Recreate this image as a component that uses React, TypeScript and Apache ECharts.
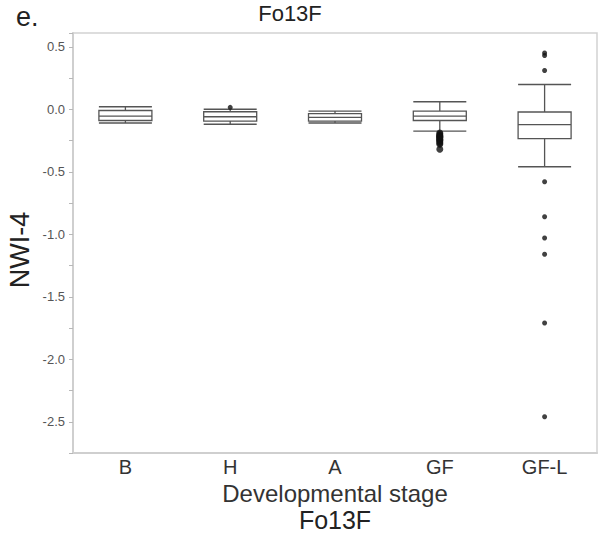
import React, { useEffect, useRef } from "react";
import * as echarts from "echarts";

const categories = ["B", "H", "A", "GF", "GF-L"];
// [min, Q1, median, Q3, max]
const boxB = [-0.11, -0.09, -0.055, -0.01, 0.02];
const boxH = [-0.12, -0.095, -0.06, -0.02, 0.0];
const boxA = [-0.11, -0.095, -0.065, -0.035, -0.015];
const boxGF = [-0.175, -0.09, -0.055, -0.015, 0.06];
const boxGFL = [-0.46, -0.235, -0.123, -0.022, 0.198];

const outliersH = [0.015];
const outliersGF = [-0.19, -0.2, -0.21, -0.215, -0.22, -0.225, -0.23, -0.24, -0.245, -0.25, -0.26, -0.27, -0.28, -0.32];
const outliersGFL = [0.45, 0.43, 0.31, -0.58, -0.86, -1.03, -1.16, -1.71, -2.46];

const yTickLabels = ["-2.5", "-2.0", "-1.5", "-1.0", "-0.5", "0.0", "0.5"];

const FONT = "'Liberation Sans', Arial, Helvetica, sans-serif";

export default function App() {
  const ref = useRef<HTMLDivElement>(null);
  useEffect(() => {
    document.body.style.margin = "0";
    if (!ref.current) return;
    const chart = echarts.init(ref.current, undefined, { renderer: "svg" });
    const boxes = [boxB, boxH, boxA, boxGF, boxGFL];
    const smallOutliers: [string, number][] = [
      ...outliersH.map((v) => [categories[1], v] as [string, number]),
      ...outliersGFL.map((v) => [categories[4], v] as [string, number]),
    ];
    const clusterOutliers: [string, number][] = outliersGF.map((v) => [categories[3], v]);
    chart.setOption({
      animation: false,
      backgroundColor: "#fff",
      textStyle: { fontFamily: FONT },
      grid: {
        left: 73,
        right: 6,
        top: 33,
        bottom: 97,
        show: true,
        borderColor: "#d2d2d2",
        borderWidth: 1.5,
      },
      xAxis: {
        type: "category",
        data: categories,
        axisLine: { show: true, onZero: false, lineStyle: { color: "#cfcfcf", width: 2 } },
        axisTick: { show: false },
        axisLabel: { fontSize: 20, color: "#333", margin: 4, fontFamily: FONT },
        name: "Developmental stage",
        nameLocation: "middle",
        nameGap: 26,
        nameTextStyle: { fontSize: 24, color: "#333", fontFamily: FONT, verticalAlign: "top" },
        splitLine: { show: false },
      },
      yAxis: {
        type: "value",
        min: -2.75,
        max: 0.61,
        interval: 0.25,
        axisLine: { show: true, onZero: false, lineStyle: { color: "#cfcfcf", width: 2 } },
        axisTick: { show: true, length: 4, lineStyle: { color: "#b8b8b8" } },
        axisLabel: {
          show: true,
          fontSize: 13,
          color: "#555",
          margin: 8,
          fontFamily: FONT,
          formatter: (val: any) => {
            const v = Number(val);
            const r = Math.round(v * 2) / 2;
            if (Math.abs(v - r) > 1e-6) return "";
            const s = (Math.abs(r) < 1e-9 ? 0 : r).toFixed(1);
            return yTickLabels.indexOf(s) >= 0 ? s : "";
          },
        },
        splitLine: { show: false },
      },
      graphic: [
        {
          type: "text",
          x: 16,
          y: 17,
          style: { text: "e.", fontSize: 27, fontFamily: FONT, fill: "#222", textAlign: "left", textVerticalAlign: "middle" },
        },
        {
          type: "text",
          x: 290,
          y: 13,
          style: { text: "Fo13F", fontSize: 22, fontFamily: FONT, fill: "#222", textAlign: "center", textVerticalAlign: "middle" },
        },
        {
          type: "text",
          x: 335,
          y: 520,
          style: { text: "Fo13F", fontSize: 25, fontFamily: FONT, fill: "#222", textAlign: "center", textVerticalAlign: "middle" },
        },
        {
          type: "text",
          x: 20,
          y: 250,
          rotation: Math.PI / 2,
          style: { text: "NWI-4", fontSize: 27, fontFamily: FONT, fill: "#222", textAlign: "center", textVerticalAlign: "middle" },
        },
      ],
      series: [
        {
          type: "boxplot",
          data: boxes,
          boxWidth: [53, 53],
          itemStyle: { color: "#fff", borderColor: "#555", borderWidth: 1.3 },
          emphasis: { disabled: true },
          z: 2,
        },
        {
          type: "scatter",
          data: clusterOutliers,
          symbolSize: 7,
          itemStyle: { color: "#111" },
          z: 3,
        },
        {
          type: "scatter",
          data: smallOutliers,
          symbolSize: 5,
          itemStyle: { color: "#111" },
          z: 3,
        },
      ],
    });
    return () => chart.dispose();
  }, []);
  return <div ref={ref} style={{ width: 603, height: 550 }} />;
}
